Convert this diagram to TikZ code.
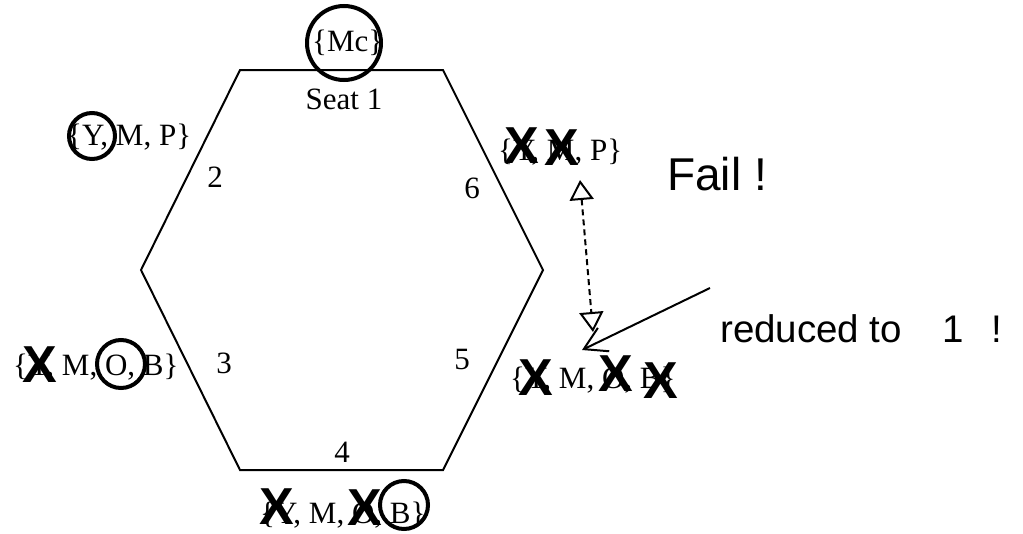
\documentclass[tikz,border=0pt]{standalone}
\usepackage{fontspec}
\setmainfont{Liberation Serif}
\newfontfamily\arialfont{Liberation Sans}
\usetikzlibrary{arrows.meta}

\begin{document}
\begin{tikzpicture}[x=1pt, y=-1pt,
    seatno/.style={inner sep=0pt, anchor=base, font=\fontsize{31}{36}\selectfont},
    guests/.style={inner sep=0pt, anchor=base west, font=\fontsize{31}{36}\selectfont},
    ring/.style={circle, draw, line width=4pt, inner sep=0pt},
    cross/.style={inner sep=0pt, font=\arialfont\bfseries\fontsize{52}{56}\selectfont},
    remark/.style={inner sep=0pt, anchor=base west, font=\arialfont\fontsize{38.5}{44}\selectfont}]
  \useasboundingbox (0,0) rectangle (1023,533);
  % the table
  \draw[line width=2pt] (240,70) -- (443,70) -- (543,270) -- (443,470) -- (240,470) -- (141,270) -- cycle;
  % seat numbers
  \node[seatno] (s1) at (344,109) {Seat 1};
  \node[seatno] (s2) at (215,187) {2};
  \node[seatno] (s3) at (224,373) {3};
  \node[seatno] (s4) at (342,462) {4};
  \node[seatno] (s5) at (462,369) {5};
  \node[seatno] (s6) at (472,198) {6};
  % guest sets
  \node[guests] (g1) at (312,51) {\{Mc\}};
  \node[guests] (g2) at (67,145) {\{Y, M, P\}};
  \node[guests] (g6) at (498,160) {\{Y, M, P\}};
  \node[guests] (g3) at (13,375) {\{Y, M, O, B\}};
  \node[guests] (g5) at (510,388) {\{Y, M, O, B\}};
  \node[guests] (g4) at (260,523) {\{Y, M, O, B\}};
  % chosen
  \node[ring, minimum size=74pt] (r1) at (344,43) {};
  \node[ring, minimum size=46pt] (r2) at (92,136) {};
  \node[ring, minimum size=48pt] (r3) at (121,364) {};
  \node[ring, minimum size=48pt] (r4) at (404,505) {};
  % removed
  \node[cross] (x61) at (522,146) {X};
  \node[cross] (x62) at (562,148) {X};
  \node[cross] (x31) at (40,365) {X};
  \node[cross] (x51) at (536,378) {X};
  \node[cross] (x52) at (616,374) {X};
  \node[cross] (x53) at (661,381) {X};
  \node[cross] (x41) at (277,507) {X};
  \node[cross] (x42) at (365,508) {X};
  % remarks
  \node[remark, font=\arialfont\fontsize{46}{52}\selectfont] (fail) at (667,190) {Fail !};
  \node[remark] (reduced) at (720,342) {reduced to\hspace{40pt}1\hspace{28pt}!};
  \coordinate (failtop) at (580,180);
  \coordinate (failbot) at (593,332);
  \coordinate (redstart) at (710,288);
  \coordinate (redtip) at (582,350);
  \draw[line width=2pt, dash pattern=on 6pt off 4pt,
    {Triangle[open, length=20pt, width=24pt]}-{Triangle[open, length=20pt, width=24pt]}] (failtop) -- (failbot);
  \draw[line width=2pt, -{Straight Barb[length=22pt, width=26pt]}] (redstart) -- (redtip);
\end{tikzpicture}
\end{document}
